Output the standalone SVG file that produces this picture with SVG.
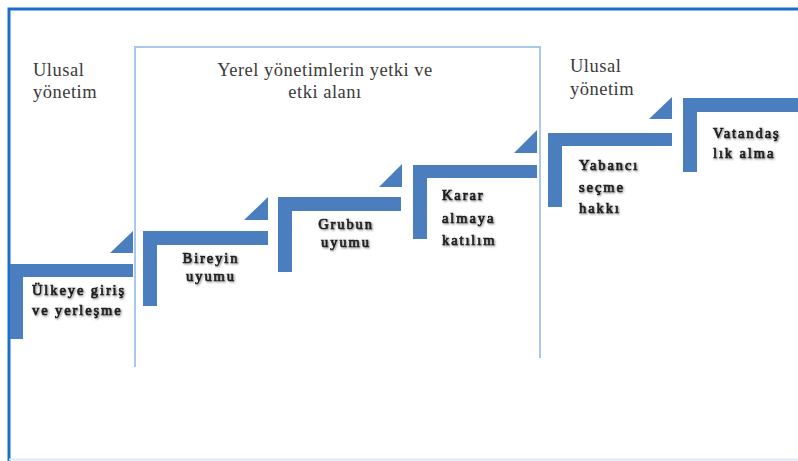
<svg xmlns="http://www.w3.org/2000/svg" width="798" height="461" viewBox="0 0 798 461">
<style>
.bar{fill:#4a7ebf}
.plain{font-family:"Liberation Serif","DejaVu Serif",serif;font-size:18.5px;fill:#3a3a3a;letter-spacing:0.5px}
.lbl{font-family:"Liberation Serif","DejaVu Serif",serif;font-size:14.5px;font-weight:400;fill:#1e1e1e;stroke:#1e1e1e;stroke-width:0.7px;letter-spacing:1.9px}
</style>
<defs>
<filter id="sh" x="-10%" y="-30%" width="120%" height="160%">
<feGaussianBlur in="SourceAlpha" stdDeviation="0.8"/>
<feOffset dx="1" dy="1"/>
<feComponentTransfer><feFuncA type="linear" slope="0.5"/></feComponentTransfer>
<feMerge><feMergeNode/><feMergeNode in="SourceGraphic"/></feMerge>
</filter>
</defs>
<rect width="798" height="461" fill="#ffffff"/>
<g id="frame">
<path d="M798,9 H9 V461" fill="none" stroke="#1b6fc8" stroke-width="3"/>
<line x1="9" y1="459.5" x2="798" y2="459.5" stroke="#dcebf9" stroke-width="2"/>
<path d="M135,367 V47 H540 V358" fill="none" stroke="#a9c8ec" stroke-width="2"/>
</g>
<g id="headers">
<text class="plain" x="33" y="76">Ulusal</text>
<text class="plain" x="33" y="98">yönetim</text>
<text class="plain" x="325" y="76" text-anchor="middle">Yerel yönetimlerin yetki ve</text>
<text class="plain" x="325" y="98" text-anchor="middle">etki alanı</text>
<text class="plain" x="570" y="72">Ulusal</text>
<text class="plain" x="570" y="95">yönetim</text>
</g>
<g id="step1">
<path class="bar" d="M10,264 H133 V277 H23 V339 H10 Z"/>
<polygon class="bar" points="110,253 133,231 133,253"/>
<text class="lbl" filter="url(#sh)" x="32" y="295">Ülkeye giriş</text>
<text class="lbl" filter="url(#sh)" x="32" y="315">ve yerleşme</text>
</g>
<g id="step2">
<path class="bar" d="M143,231 H268 V245 H157 V306 H143 Z"/>
<polygon class="bar" points="244,220 268,197 268,220"/>
<text class="lbl" filter="url(#sh)" x="211" y="263" text-anchor="middle">Bireyin</text>
<text class="lbl" filter="url(#sh)" x="211" y="281" text-anchor="middle">uyumu</text>
</g>
<g id="step3">
<path class="bar" d="M278,197 H401 V211 H292 V272 H278 Z"/>
<polygon class="bar" points="379,187 402,164 402,187"/>
<text class="lbl" filter="url(#sh)" x="346" y="229" text-anchor="middle">Grubun</text>
<text class="lbl" filter="url(#sh)" x="346" y="247" text-anchor="middle">uyumu</text>
</g>
<g id="step4">
<path class="bar" d="M413,165 H537 V178 H427 V239 H413 Z"/>
<polygon class="bar" points="514,153 537,130 537,153"/>
<text class="lbl" filter="url(#sh)" x="442" y="200">Karar</text>
<text class="lbl" filter="url(#sh)" x="442" y="223">almaya</text>
<text class="lbl" filter="url(#sh)" x="442" y="245">katılım</text>
</g>
<g id="step5">
<path class="bar" d="M548,133 H672 V146 H562 V207 H548 Z"/>
<polygon class="bar" points="649,119 672,97 672,119"/>
<text class="lbl" filter="url(#sh)" x="579" y="170">Yabancı</text>
<text class="lbl" filter="url(#sh)" x="579" y="192">seçme</text>
<text class="lbl" filter="url(#sh)" x="579" y="213">hakkı</text>
</g>
<g id="step6">
<path class="bar" d="M683,98 H798 V112 H697 V172 H683 Z"/>
<text class="lbl" filter="url(#sh)" x="713" y="138">Vatandaş</text>
<text class="lbl" filter="url(#sh)" x="713" y="158">lık alma</text>
</g>
<g id="connectors"></g>
</svg>
